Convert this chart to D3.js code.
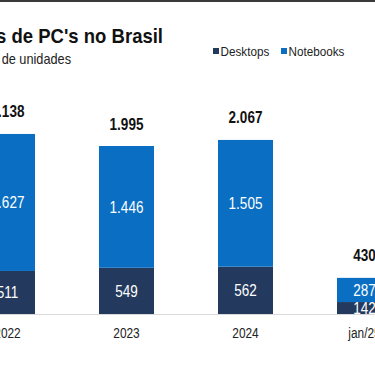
<!DOCTYPE html>
<html>
<head>
<meta charset="utf-8">
<script src="https://cdn.jsdelivr.net/npm/d3@7"></script>
<style>
  html, body { margin: 0; padding: 0; background: #fff; }
  #chart { width: 375px; height: 366px; overflow: hidden; }
</style>
</head>
<body>
<div id="chart"></div>
<script>
// Vendas de PC's no Brasil (milhares de unidades)
const categories = ['2022', '2023', '2024', 'jan/25'];
const desktops = [511, 549, 562, 142];
const notebooks = [1627, 1446, 1505, 287];
const totals = [2138, 1995, 2067, 430];
const seriesNames = ['Desktops', 'Notebooks'];

const colors = { Desktops: '#233a5e', Notebooks: '#0a6fc2' };
const sans = '"Liberation Sans", Arial, sans-serif';
// no narrow font installed, so squeeze Liberation Sans horizontally
const narrowScale = 0.82;

const width = 375, height = 366;
const baseY = 314;

const svg = d3.select('#chart')
    .append('svg')
    .attr('width', width)
    .attr('height', height);

// thin dark frame line across the top
svg.append('rect')
    .attr('x', 0).attr('y', 0)
    .attr('width', width).attr('height', 2)
    .attr('fill', '#3a3a3a');

// Scales
const x = d3.scaleBand()
    .domain(categories)
    .range([-52, 424])
    .paddingInner(64 / 119)
    .paddingOuter(32 / 119);

const y = d3.scaleLinear()
    .domain([0, 1995])
    .range([baseY, 146]);

// Stack the data
const rows = categories.map((c, i) => ({ cat: c, Desktops: desktops[i], Notebooks: notebooks[i] }));
const stacked = d3.stack().keys(seriesNames)(rows);

// Baseline
svg.append('line')
    .attr('x1', 0).attr('x2', width)
    .attr('y1', baseY + 0.5).attr('y2', baseY + 0.5)
    .attr('stroke', '#d9d9d9')
    .attr('stroke-width', 1);

// Bars
const layers = svg.selectAll('.layer')
    .data(stacked)
    .enter()
    .append('g')
    .attr('class', 'layer')
    .attr('fill', d => colors[d.key]);

layers.selectAll('rect')
    .data(d => d)
    .enter()
    .append('rect')
    .attr('x', d => x(d.data.cat))
    .attr('y', d => y(d[1]))
    .attr('width', x.bandwidth())
    .attr('height', d => y(d[0]) - y(d[1]));

// Segment labels
const fmt = v => d3.format(',')(v).replace(/,/g, '.');

layers.selectAll('.seg-label')
    .data(d => d)
    .enter()
    .append('text')
    .attr('class', 'seg-label')
    .attr('transform', d => `translate(${x(d.data.cat) + x.bandwidth() / 2}, ${(y(d[0]) + y(d[1])) / 2 + 6}) scale(${narrowScale}, 1)`)
    .attr('text-anchor', 'middle')
    .attr('fill', '#fff')
    .attr('font-family', sans)
    .attr('font-size', '16.5px')
    .text(d => fmt(d[1] - d[0]));

// Totals
svg.selectAll('.total')
    .data(categories)
    .enter()
    .append('text')
    .attr('class', 'total')
    .attr('transform', (d, i) => `translate(${x(d) + x.bandwidth() / 2}, ${y(totals[i]) - 16.5}) scale(${narrowScale}, 1)`)
    .attr('text-anchor', 'middle')
    .attr('fill', '#111')
    .attr('font-family', sans)
    .attr('font-weight', 'bold')
    .attr('font-size', '16.5px')
    .text((d, i) => fmt(totals[i]));

// X axis labels
const xAxis = svg.append('g')
    .attr('transform', `translate(0, ${baseY})`)
    .call(d3.axisBottom(x).tickSize(0).tickPadding(14));

xAxis.select('.domain').remove();
xAxis.selectAll('.tick text')
    .attr('transform', `scale(${narrowScale}, 1)`)
    .attr('fill', '#222')
    .attr('font-family', sans)
    .attr('font-size', '14.5px');

// Title and subtitle
svg.append('text')
    .attr('transform', 'translate(163, 43) scale(0.95, 1)')
    .attr('text-anchor', 'end')
    .attr('fill', '#111')
    .attr('font-family', sans)
    .attr('font-weight', 'bold')
    .attr('font-size', '19.5px')
    .text("Vendas de PC's no Brasil");

svg.append('text')
    .attr('transform', 'translate(71, 64) scale(0.91, 1)')
    .attr('text-anchor', 'end')
    .attr('fill', '#222')
    .attr('font-family', sans)
    .attr('font-size', '14px')
    .text('Em milhares de unidades');

// Legend
const legendX = [213, 281];
const legend = svg.selectAll('.legend')
    .data(seriesNames)
    .enter()
    .append('g')
    .attr('class', 'legend')
    .attr('transform', (d, i) => `translate(${legendX[i]}, 48)`);

legend.append('rect')
    .attr('width', 6)
    .attr('height', 6)
    .attr('fill', d => colors[d]);

legend.append('text')
    .attr('transform', 'translate(7.5, 8) scale(0.9, 1)')
    .attr('fill', '#222')
    .attr('font-family', sans)
    .attr('font-size', '13px')
    .text(d => d);
</script>
</body>
</html>
